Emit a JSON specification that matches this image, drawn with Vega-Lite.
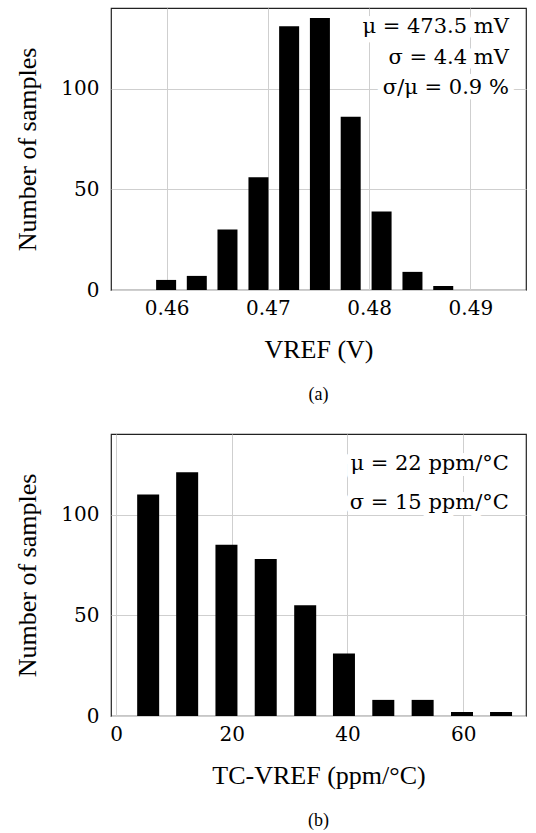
{
  "$schema": "https://vega.github.io/schema/vega-lite/v6.json",
  "padding": {"left": 14, "top": 7, "right": 7, "bottom": 2},
  "background": "white",
  "config": {
    "font": "Liberation Serif",
    "text": {"font": "DejaVu Serif"},
    "view": {"stroke": "#222222", "strokeWidth": 1.2},
    "axis": {
      "grid": true, "gridColor": "#cfcfcf", "gridWidth": 1,
      "ticks": false, "domain": false,
      "labelFont": "DejaVu Serif", "labelFontSize": 20, "labelColor": "black",
      "titleFont": "Liberation Serif", "titleFontSize": 26, "titleFontWeight": "normal", "titleColor": "black"
    },
    "title": {"font": "Liberation Serif", "fontSize": 18, "fontWeight": "normal", "color": "black"},
    "concat": {"spacing": 28}
  },
  "datasets": {
    "vref": [
      {"vref": 0.45995, "count": 5},
      {"vref": 0.46298, "count": 7},
      {"vref": 0.46601, "count": 30},
      {"vref": 0.46907, "count": 56},
      {"vref": 0.47210, "count": 131},
      {"vref": 0.47514, "count": 135},
      {"vref": 0.47818, "count": 86},
      {"vref": 0.48123, "count": 39},
      {"vref": 0.48428, "count": 9},
      {"vref": 0.48732, "count": 2}
    ],
    "tc": [
      {"tc": 5.56, "count": 110},
      {"tc": 12.3, "count": 121},
      {"tc": 19.09, "count": 85},
      {"tc": 25.88, "count": 78},
      {"tc": 32.7, "count": 55},
      {"tc": 39.4, "count": 31},
      {"tc": 46.2, "count": 8},
      {"tc": 53.0, "count": 8},
      {"tc": 59.8, "count": 2},
      {"tc": 66.55, "count": 2}
    ]
  },
  "vconcat": [
    {
      "width": 415, "height": 282,
      "title": {"text": "(a)", "orient": "bottom", "offset": 24, "font": "Liberation Serif"},
      "layer": [
        {
          "data": {"name": "vref"},
          "mark": {"type": "bar", "size": 20, "color": "black"},
          "encoding": {
            "x": {"field": "vref", "type": "quantitative",
              "scale": {"domain": [0.455, 0.495], "nice": false, "zero": false},
              "axis": {"values": [0.46, 0.47, 0.48, 0.49], "format": ".2f", "title": "VREF (V)", "labelPadding": 8, "titlePadding": 18}},
            "y": {"field": "count", "type": "quantitative",
              "scale": {"domain": [0, 140], "nice": false},
              "axis": {"values": [0, 50, 100], "title": "Number of samples", "labelPadding": 12, "titlePadding": 20}}
          }
        },
        {
          "data": {"values": [{}]},
          "mark": {"type": "text", "font": "DejaVu Serif", "align": "right", "baseline": "middle", "fontSize": 21, "lineHeight": 30.5,
            "stroke": "white", "strokeWidth": 12, "strokeJoin": "round", "fill": "white",
            "text": ["μ = 473.5 mV", "σ = 4.4 mV", "σ/μ = 0.9 %"]},
          "encoding": {"x": {"datum": 0.4938}, "y": {"datum": 130.4}}
        },
        {
          "data": {"values": [{}]},
          "mark": {"type": "text", "font": "DejaVu Serif", "align": "right", "baseline": "middle", "fontSize": 21, "lineHeight": 30.5, "color": "black",
            "text": ["μ = 473.5 mV", "σ = 4.4 mV", "σ/μ = 0.9 %"]},
          "encoding": {"x": {"datum": 0.4938}, "y": {"datum": 130.4}}
        }
      ]
    },
    {
      "width": 415, "height": 282,
      "title": {"text": "(b)", "orient": "bottom", "offset": 24, "font": "Liberation Serif"},
      "layer": [
        {
          "data": {"name": "tc"},
          "mark": {"type": "bar", "size": 22, "color": "black"},
          "encoding": {
            "x": {"field": "tc", "type": "quantitative",
              "scale": {"domain": [0, 70], "nice": false, "zero": false},
              "axis": {"values": [0, 20, 40, 60], "title": "TC-VREF (ppm/°C)", "labelPadding": 8, "titlePadding": 18}},
            "y": {"field": "count", "type": "quantitative",
              "scale": {"domain": [0, 140], "nice": false},
              "axis": {"values": [0, 50, 100], "title": "Number of samples", "labelPadding": 12, "titlePadding": 20}}
          }
        },
        {
          "data": {"values": [{}]},
          "mark": {"type": "text", "font": "DejaVu Serif", "align": "right", "baseline": "middle", "fontSize": 21, "lineHeight": 38.7,
            "stroke": "white", "strokeWidth": 12, "strokeJoin": "round", "fill": "white",
            "text": ["μ = 22 ppm/°C", "σ = 15 ppm/°C"]},
          "encoding": {"x": {"datum": 67.9}, "y": {"datum": 125}}
        },
        {
          "data": {"values": [{}]},
          "mark": {"type": "text", "font": "DejaVu Serif", "align": "right", "baseline": "middle", "fontSize": 21, "lineHeight": 38.7, "color": "black",
            "text": ["μ = 22 ppm/°C", "σ = 15 ppm/°C"]},
          "encoding": {"x": {"datum": 67.9}, "y": {"datum": 125}}
        }
      ]
    }
  ]
}
